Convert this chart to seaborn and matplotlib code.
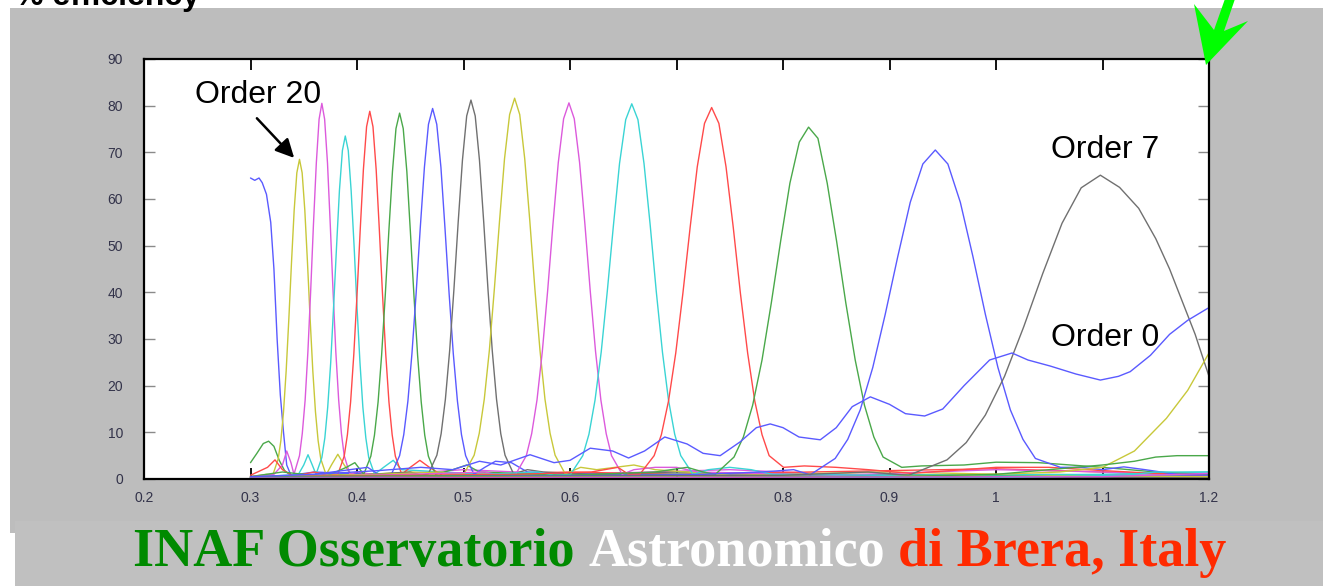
import numpy as np
import pandas as pd
import matplotlib
matplotlib.use("Agg")
import matplotlib.pyplot as plt
import seaborn as sns
from matplotlib.patches import Rectangle, Polygon

# ---------------- data ----------------
X_TICKS = [0.2, 0.3, 0.4, 0.5, 0.6, 0.7, 0.8, 0.9, 1.0, 1.1, 1.2]
X_TICK_LABELS = ["0.2", "0.3", "0.4", "0.5", "0.6", "0.7", "0.8", "0.9", "1", "1.1", "1.2"]
Y_TICKS = [0, 10, 20, 30, 40, 50, 60, 70, 80, 90]

ORDER22_WL = [0.300, 0.306, 0.312, 0.317, 0.322, 0.327, 0.332, 0.338, 0.345, 0.40, 0.50, 0.70, 1.00, 1.20]
ORDER22_EFF = [3.5, 5.5, 7.6, 8.1, 7.0, 4.0, 1.8, 0.8, 0.5, 1.2, 0.6, 0.8, 0.4, 0.3]

ORDER21_WL = [0.300, 0.304, 0.308, 0.311, 0.315, 0.319, 0.322, 0.325, 0.328, 0.331, 0.334, 0.338,
              0.36, 0.45, 0.60, 0.90, 1.20]
ORDER21_EFF = [64.5, 64.0, 64.5, 63.5, 61.0, 55.0, 45.0, 30.0, 18.0, 10.0, 3.0, 0.8,
               1.5, 0.6, 1.0, 0.5, 0.4]

ORDER20_WL = [0.300, 0.315,
              0.321, 0.326, 0.3285, 0.331, 0.3335, 0.336, 0.3385, 0.341, 0.3435, 0.346,
              0.3485, 0.351, 0.3535, 0.356, 0.3585, 0.361, 0.3635, 0.366, 0.371,
              0.376, 0.382, 0.388, 0.395, 0.45, 0.55, 0.70, 0.90, 1.05, 1.20]
ORDER20_EFF = [0.5, 1.0,
               0.9, 4.3, 8.2, 14.4, 23.2, 34.3, 46.4, 57.6, 65.6, 68.5,
               65.6, 57.6, 46.4, 34.3, 23.2, 14.4, 8.2, 4.3, 0.9,
               3.0, 5.3, 3.0, 0.8, 1.5, 0.8, 1.2, 0.5, 1.0, 0.5]

ORDER19_WL = [0.300, 0.322, 0.330, 0.334, 0.338,
              0.3408, 0.346, 0.3486, 0.3513, 0.3539, 0.3565, 0.3591, 0.3618, 0.3644, 0.367,
              0.3696, 0.3723, 0.3749, 0.3775, 0.3801, 0.3828, 0.3854, 0.388, 0.3933,
              0.40, 0.42, 0.50, 0.60, 0.75, 0.85, 1.00, 1.20]
ORDER19_EFF = [0.5, 1.0, 3.0, 6.0, 3.5,
               1.0, 5.0, 9.7, 16.9, 27.3, 40.3, 54.5, 67.7, 77.1, 80.5,
               77.1, 67.7, 54.5, 40.3, 27.3, 16.9, 9.7, 5.0, 1.0,
               1.5, 0.8, 2.0, 1.0, 2.0, 1.0, 0.7, 1.2]

ORDER18_WL = [0.300, 0.345, 0.350, 0.354, 0.358,
              0.3615, 0.367, 0.3698, 0.3725, 0.3753, 0.378, 0.3808, 0.3835, 0.3863, 0.389,
              0.3918, 0.3945, 0.3973, 0.400, 0.4028, 0.4055, 0.4083, 0.411, 0.4165,
              0.425, 0.434, 0.442, 0.55, 0.70, 0.90, 1.10, 1.20]
ORDER18_EFF = [0.3, 1.0, 3.0, 5.2, 3.0,
               1.0, 4.6, 8.8, 15.4, 24.9, 36.8, 49.8, 61.8, 70.4, 73.5,
               70.4, 61.8, 49.8, 36.8, 24.9, 15.4, 8.8, 4.6, 1.0,
               2.5, 4.0, 2.0, 0.6, 1.2, 0.8, 0.6, 1.0]

ORDER17_WL = [0.300, 0.316, 0.323, 0.330, 0.340, 0.360, 0.372,
              0.382, 0.388, 0.391, 0.394, 0.397, 0.400, 0.403, 0.406, 0.409, 0.412,
              0.415, 0.418, 0.421, 0.424, 0.427, 0.430, 0.433, 0.436, 0.442,
              0.450, 0.459, 0.468, 0.480, 0.60, 0.70, 0.90, 1.00, 1.10, 1.20]
ORDER17_EFF = [0.8, 2.5, 4.1, 2.0, 0.6, 1.5, 0.8,
               1.0, 4.9, 9.5, 16.5, 26.7, 39.4, 53.3, 66.3, 75.5, 78.8,
               75.5, 66.3, 53.3, 39.4, 26.7, 16.5, 9.5, 4.9, 1.0,
               2.5, 4.0, 2.5, 0.8, 1.5, 1.0, 1.8, 2.2, 1.5, 0.8]

ORDER16_WL = [0.300, 0.330, 0.370, 0.390, 0.398,
              0.4063, 0.413, 0.4164, 0.4198, 0.4231, 0.4265, 0.4299, 0.4333, 0.4366, 0.440,
              0.4434, 0.4468, 0.4501, 0.4535, 0.4569, 0.4603, 0.4636, 0.467, 0.4738,
              0.490, 0.503, 0.515, 0.60, 0.80, 1.00, 1.20]
ORDER16_EFF = [0.5, 1.5, 0.5, 2.5, 3.5,
               1.0, 4.9, 9.4, 16.5, 26.5, 39.2, 53.1, 65.9, 75.1, 78.4,
               75.1, 65.9, 53.1, 39.2, 26.5, 16.5, 9.4, 4.9, 1.0,
               2.0, 3.0, 1.5, 0.8, 1.0, 0.8, 0.6]

ORDER15_WL = [0.300, 0.360, 0.410, 0.420,
              0.4323, 0.440, 0.4439, 0.4478, 0.4516, 0.4555, 0.4594, 0.4633, 0.4671, 0.471,
              0.4749, 0.4788, 0.4826, 0.4865, 0.4904, 0.4943, 0.4981, 0.502, 0.5098,
              0.520, 0.530, 0.545, 0.560, 0.65, 0.80, 1.00, 1.20]
ORDER15_EFF = [0.3, 1.0, 2.5, 1.0,
               1.0, 5.0, 9.5, 16.7, 26.9, 39.7, 53.8, 66.8, 76.0, 79.4,
               76.0, 66.8, 53.8, 39.7, 26.9, 16.7, 9.5, 5.0, 1.0,
               2.5, 3.8, 3.5, 1.5, 0.8, 1.0, 0.5, 0.8]

ORDER14_WL = [0.300, 0.400, 0.450, 0.460,
              0.467, 0.475, 0.479, 0.483, 0.487, 0.491, 0.495, 0.499, 0.503, 0.507,
              0.511, 0.515, 0.519, 0.523, 0.527, 0.531, 0.535, 0.539, 0.547,
              0.560, 0.575, 0.620, 0.700, 0.900, 1.200]
ORDER14_EFF = [0.3, 0.8, 1.5, 0.8,
               1.1, 5.1, 9.7, 17.1, 27.5, 40.6, 55.0, 68.3, 77.8, 81.2,
               77.8, 68.3, 55.0, 40.6, 27.5, 17.1, 9.7, 5.1, 1.1,
               2.0, 1.5, 1.0, 1.5, 0.5, 0.3]

ORDER13_WL = [0.300, 0.420, 0.480, 0.490,
              0.5005, 0.510, 0.5148, 0.5195, 0.5243, 0.529, 0.5338, 0.5385, 0.5433, 0.548,
              0.5528, 0.5575, 0.5623, 0.567, 0.5718, 0.5765, 0.5813, 0.586, 0.5955,
              0.610, 0.625, 0.660, 0.680, 0.750, 0.900, 1.050, 1.200]
ORDER13_EFF = [0.5, 1.0, 1.5, 0.8,
               1.1, 5.1, 9.8, 17.1, 27.6, 40.8, 55.2, 68.6, 78.1, 81.6,
               78.1, 68.6, 55.2, 40.8, 27.6, 17.1, 9.8, 5.1, 1.1,
               2.5, 2.0, 3.0, 2.0, 0.8, 1.5, 0.8, 0.5]

ORDER12_WL = [0.300, 0.450, 0.520, 0.535,
              0.549, 0.559, 0.564, 0.569, 0.574, 0.579, 0.584, 0.589, 0.594, 0.599,
              0.604, 0.609, 0.614, 0.619, 0.624, 0.629, 0.634, 0.639, 0.649,
              0.660, 0.680, 0.700, 0.720, 0.850, 1.000, 1.100, 1.200]
ORDER12_EFF = [0.3, 1.0, 1.5, 0.8,
               1.0, 5.0, 9.7, 16.9, 27.3, 40.3, 54.6, 67.8, 77.2, 80.6,
               77.2, 67.8, 54.6, 40.3, 27.3, 16.9, 9.7, 5.0, 1.0,
               2.0, 2.5, 2.5, 1.5, 0.8, 2.0, 1.5, 1.0]

ORDER11_WL = [0.300, 0.500, 0.570, 0.585,
              0.6005, 0.612, 0.6178, 0.6235, 0.6293, 0.635, 0.6408, 0.6465, 0.6523, 0.658,
              0.6638, 0.6695, 0.6753, 0.681, 0.6868, 0.6925, 0.6983, 0.704, 0.7155,
              0.730, 0.750, 0.770, 0.790, 0.900, 1.100, 1.200]
ORDER11_EFF = [0.3, 0.8, 1.5, 0.8,
               1.0, 5.0, 9.6, 16.9, 27.2, 40.2, 54.4, 67.6, 77.0, 80.4,
               77.0, 67.6, 54.4, 40.2, 27.2, 16.9, 9.6, 5.0, 1.0,
               2.0, 2.5, 2.0, 1.0, 0.8, 1.0, 1.5]

ORDER10_WL = [0.300, 0.550, 0.620, 0.645, 0.655,
              0.6655, 0.679, 0.6858, 0.6925, 0.6993, 0.706, 0.7128, 0.7195, 0.7263, 0.733,
              0.7398, 0.7465, 0.7533, 0.760, 0.7668, 0.7735, 0.7803, 0.787, 0.8005,
              0.820, 0.850, 0.880, 0.920, 1.000, 1.050, 1.100, 1.150, 1.200]
ORDER10_EFF = [0.5, 1.0, 1.5, 2.5, 1.0,
               1.0, 5.0, 9.5, 16.7, 27.0, 39.8, 53.9, 66.9, 76.2, 79.6,
               76.2, 66.9, 53.9, 39.8, 27.0, 16.7, 9.5, 5.0, 2.5,
               2.8, 2.5, 2.0, 1.2, 2.5, 2.5, 1.8, 1.2, 0.8]

ORDER9_WL = [0.300, 0.600, 0.680, 0.710, 0.725,
             0.7365, 0.754, 0.7628, 0.7715, 0.7803, 0.789, 0.7978, 0.8065, 0.8153, 0.824,
             0.8328, 0.8415, 0.8503, 0.859, 0.8678, 0.8765, 0.8853, 0.894, 0.9115,
             0.930, 0.970, 1.000, 1.040, 1.070, 1.100, 1.150, 1.200]
ORDER9_EFF = [0.5, 0.8, 1.5, 2.5, 1.5,
              1.0, 4.7, 9.0, 15.8, 25.5, 37.7, 51.0, 63.4, 72.2, 75.4,
              73.0, 63.4, 51.0, 37.7, 25.5, 15.8, 9.0, 4.7, 2.5,
              2.8, 3.0, 3.6, 3.5, 3.0, 2.5, 1.5, 1.0]

ORDER8_WL = [0.300, 0.700, 0.780, 0.810,
             0.8255, 0.849, 0.8608, 0.8725, 0.8843, 0.896, 0.9078, 0.9195, 0.9313, 0.943,
             0.9548, 0.9665, 0.9783, 0.990, 1.0018, 1.0135, 1.0253, 1.037, 1.0605,
             1.080, 1.100, 1.120, 1.140, 1.170, 1.200]
ORDER8_EFF = [0.3, 0.8, 1.5, 2.0,
              0.9, 4.4, 8.5, 14.8, 23.9, 35.3, 47.7, 59.3, 67.5, 70.5,
              67.5, 59.3, 47.7, 35.3, 23.9, 14.8, 8.5, 4.4, 2.5,
              2.5, 2.0, 2.6, 2.0, 1.0, 0.8]

ORDER7_WL = [0.300, 0.800, 0.880,
             0.918, 0.954, 0.972, 0.990, 1.008, 1.026, 1.044, 1.062, 1.080, 1.098,
             1.116, 1.134, 1.150, 1.163, 1.175, 1.187, 1.200]
ORDER7_EFF = [0.3, 0.8, 1.5,
              0.8, 4.1, 7.8, 13.7, 22.0, 32.6, 44.1, 54.8, 62.4, 65.1,
              62.5, 58.0, 51.5, 45.0, 38.0, 31.0, 22.0]

ORDER6_WL = [0.300, 0.900, 1.000, 1.060, 1.100, 1.130, 1.160, 1.180, 1.200]
ORDER6_EFF = [0.3, 0.5, 1.0, 1.5, 2.5, 6.0, 13.0, 19.0, 27.0]

ORDER5_WL = [0.300, 0.900, 1.000, 1.050, 1.100, 1.130, 1.150, 1.170, 1.200]
ORDER5_EFF = [0.2, 0.5, 1.0, 2.0, 3.0, 3.8, 4.7, 5.0, 5.0]

ORDER4_WL = [0.300, 1.000, 1.120, 1.150, 1.200]
ORDER4_EFF = [0.2, 0.3, 0.8, 1.5, 1.5]

ORDER3_WL = [0.300, 1.100, 1.200]
ORDER3_EFF = [0.2, 0.5, 1.2]

ORDER0_WL = [0.300, 0.360, 0.420, 0.460, 0.490, 0.515, 0.535, 0.5625, 0.585, 0.600, 0.619, 0.640, 0.655,
             0.670, 0.689, 0.710, 0.725, 0.741, 0.760, 0.775, 0.788, 0.800, 0.815, 0.835, 0.850, 0.865,
             0.882, 0.900, 0.915, 0.933, 0.950, 0.970, 0.994, 1.015, 1.030, 1.051, 1.075, 1.098, 1.115,
             1.126, 1.145, 1.163, 1.180, 1.199]
ORDER0_EFF = [0.5, 1.0, 1.8, 2.5, 2.0, 3.8, 3.0, 5.2, 3.5, 4.0, 6.6, 6.0, 4.5,
              6.0, 9.0, 7.5, 5.5, 5.0, 8.0, 11.0, 11.8, 11.0, 9.0, 8.4, 11.0, 15.5,
              17.6, 16.0, 14.0, 13.5, 15.0, 20.0, 25.5, 27.0, 25.5, 24.2, 22.5, 21.2, 22.0,
              23.0, 26.5, 31.0, 34.0, 36.6]

LABEL_ORDER20 = "Order 20"
LABEL_ORDER7 = "Order 7"
LABEL_ORDER0 = "Order 0"
TITLE_PARTIAL = "% efficiency"
BANNER_PARTS = ["INAF Osservatorio", "Astronomico", "di Brera, Italy"]

# ---------------- styling ----------------
C_B, C_G, C_R = "#5a5aff", "#4aa84a", "#ff4a4a"
C_C, C_M, C_Y, C_K = "#3ad4d4", "#dc5adc", "#c8c83a", "#707070"

curves = [
    ("o22", ORDER22_WL, ORDER22_EFF, C_G),
    ("o21", ORDER21_WL, ORDER21_EFF, C_B),
    ("o20", ORDER20_WL, ORDER20_EFF, C_Y),
    ("o19", ORDER19_WL, ORDER19_EFF, C_M),
    ("o18", ORDER18_WL, ORDER18_EFF, C_C),
    ("o17", ORDER17_WL, ORDER17_EFF, C_R),
    ("o16", ORDER16_WL, ORDER16_EFF, C_G),
    ("o15", ORDER15_WL, ORDER15_EFF, C_B),
    ("o14", ORDER14_WL, ORDER14_EFF, C_K),
    ("o13", ORDER13_WL, ORDER13_EFF, C_Y),
    ("o12", ORDER12_WL, ORDER12_EFF, C_M),
    ("o11", ORDER11_WL, ORDER11_EFF, C_C),
    ("o10", ORDER10_WL, ORDER10_EFF, C_R),
    ("o9", ORDER9_WL, ORDER9_EFF, C_G),
    ("o8", ORDER8_WL, ORDER8_EFF, C_B),
    ("o7", ORDER7_WL, ORDER7_EFF, C_K),
    ("o6", ORDER6_WL, ORDER6_EFF, C_Y),
    ("o5", ORDER5_WL, ORDER5_EFF, C_G),
    ("o4", ORDER4_WL, ORDER4_EFF, C_C),
    ("o3", ORDER3_WL, ORDER3_EFF, C_M),
    ("o0", ORDER0_WL, ORDER0_EFF, C_B),
]

frames = []
palette = {}
for name, wl, eff, col in curves:
    frames.append(pd.DataFrame({"curve": name, "wl": wl, "eff": eff}))
    palette[name] = col
df = pd.concat(frames, ignore_index=True)

sns.set_theme(style="white")
plt.rcParams["font.family"] = ["Liberation Sans", "DejaVu Sans"]

W, H = 1323, 586
fig = plt.figure(figsize=(W / 100, H / 100), dpi=100, facecolor="white")

# background panels
fig.add_artist(Rectangle((10 / W, 1 - 533 / H), 1 - 10 / W, (533 - 8) / H,
                         transform=fig.transFigure, facecolor="#bdbdbd", edgecolor="none", zorder=-10))
fig.add_artist(Rectangle((15 / W, 0), 1 - 15 / W, 1 - 521 / H,
                         transform=fig.transFigure, facecolor="#c0c0c0", edgecolor="none", zorder=-9))

ax = fig.add_axes([144 / W, 1 - 479 / H, (1209 - 144) / W, (479 - 59) / H])
ax.set_facecolor("white")

sns.lineplot(data=df, x="wl", y="eff", hue="curve", palette=palette, estimator=None,
             sort=False, legend=False, linewidth=1.0, ax=ax)

ax.set_xlim(0.2, 1.2)
ax.set_ylim(0, 90)
ax.set_xticks(X_TICKS)
ax.set_xticklabels(X_TICK_LABELS)
ax.set_yticks(Y_TICKS)
ax.set_xlabel("")
ax.set_ylabel("")
for s in ax.spines.values():
    s.set_color("black")
    s.set_linewidth(1.6)
ax.tick_params(axis="x", direction="in", top=True, bottom=True, length=8, width=1.3,
               color="black", labelsize=10, labelcolor="#33334a", pad=9)
ax.tick_params(axis="y", direction="in", left=True, right=True, length=8, width=1.0,
               color="#8a8a8a", labelsize=10, labelcolor="#33334a", pad=15)

# annotations
ax.text(0.307, 82.3, LABEL_ORDER20, ha="center", va="center", fontsize=23, color="black")
ax.annotate("", xy=(0.341, 68.8), xytext=(0.306, 77.3),
            arrowprops=dict(arrowstyle="-|>", color="black", lw=1.8, mutation_scale=28,
                            shrinkA=0, shrinkB=0))
ax.text(1.102, 70.4, LABEL_ORDER7, ha="center", va="center", fontsize=23, color="black")
ax.text(1.102, 30.3, LABEL_ORDER0, ha="center", va="center", fontsize=23, color="black")

# green arrow at the top-right corner
pts = [(1194, 4), (1214, 30), (1226, -4), (1236, -4), (1224, 31), (1248, 21), (1206, 65)]
fig.add_artist(Polygon([(x / W, 1 - y / H) for x, y in pts], closed=True,
                       transform=fig.transFigure, facecolor="#00ff00", edgecolor="none", zorder=5))

# partial title at the very top (cut off by the page edge, as in the source)
fig.text(15 / W, 1 - 5 / H, TITLE_PARTIAL, ha="left", va="baseline", fontsize=23,
         fontweight="bold", color="black")

# banner
fig.canvas.draw()
renderer = fig.canvas.get_renderer()
colors = ["#008a00", "white", "#ff2a00"]
fs = 39
texts = []
for part, col in zip(BANNER_PARTS, colors):
    t = fig.text(0, 1 - 553 / H, part, ha="left", va="center", fontsize=fs,
                 family="Liberation Serif", fontweight="bold", color=col, zorder=6)
    texts.append(t)
widths = [t.get_window_extent(renderer).width for t in texts]
gap = 0.25 * fs * 100 / 72
total = sum(widths) + gap * (len(widths) - 1)
x0 = 680 - total / 2
for t, w in zip(texts, widths):
    t.set_x(x0 / W)
    x0 += w + gap

fig.savefig("out.png", dpi=100, facecolor="white")
